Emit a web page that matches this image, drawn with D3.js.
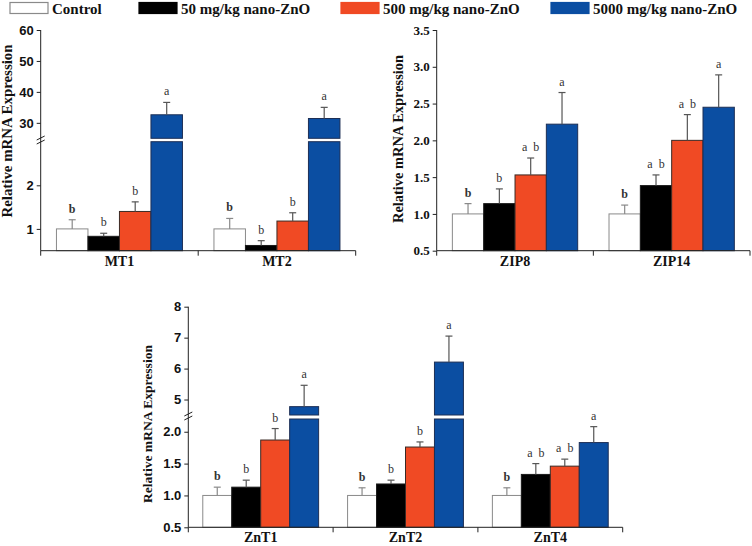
<!DOCTYPE html>
<html>
<head>
<meta charset="utf-8">
<script src="https://cdn.jsdelivr.net/npm/d3@7"></script>
<style>
  html, body { margin: 0; padding: 0; background: #fff; }
  svg { display: block; }
</style>
</head>
<body>
<svg id="chart" width="752" height="546"></svg>
<script>
// ---------- data ----------
const legendLabels = ["Control", "50 mg/kg nano-ZnO", "500 mg/kg nano-ZnO", "5000 mg/kg nano-ZnO"];
const seriesColors = ["#ffffff", "#000000", "#f04a24", "#0b4ea2"];
const seriesStrokes = ["#8a8a8a", "#1a1a1a", "#3a2a25", "#1d2f55"];

const mtGenes = ["MT1", "MT2"];
const mtMeans = [[1.0, 0.83, 1.40, 32.6], [1.0, 0.62, 1.18, 31.4]];
const mtErrs = [[0.21, 0.07, 0.22, 4.0], [0.24, 0.11, 0.19, 3.6]];
const mtLetters = [["b", "b", "b", "a"], ["b", "b", "b", "a"]];
const mtTicksLow = [1, 2];
const mtTicksHigh = [30, 40, 50, 60];

const zipGenes = ["ZIP8", "ZIP14"];
const zipMeans = [[1.0, 1.14, 1.53, 2.22], [1.0, 1.385, 2.0, 2.45]];
const zipErrs = [[0.14, 0.20, 0.23, 0.43], [0.12, 0.145, 0.35, 0.44]];
const zipLetters = [["b", "b", "a b", "a"], ["b", "a b", "a b", "a"]];
const zipTicks = [0.5, 1.0, 1.5, 2.0, 2.5, 3.0, 3.5];

const zntGenes = ["ZnT1", "ZnT2", "ZnT4"];
const zntMeans = [[1.0, 1.13, 1.87, 4.77], [1.0, 1.18, 1.76, 6.21], [1.0, 1.33, 1.46, 1.83]];
const zntErrs = [[0.13, 0.11, 0.18, 0.69], [0.12, 0.06, 0.08, 0.84], [0.12, 0.17, 0.11, 0.25]];
const zntLetters = [["b", "b", "b", "a"], ["b", "b", "b", "a"], ["b", "a b", "a b", "a"]];
const zntTicksLow = [0.5, 1.0, 1.5, 2.0];
const zntTicksHigh = [5, 6, 7, 8];

const yTitle = "Relative mRNA Expression";

// ---------- drawing ----------
const svg = d3.select("#chart");
const SERIF = "'Liberation Serif', 'Times New Roman', serif";
const SANS = "'Liberation Sans', Arial, sans-serif";

// legend
const legendX = [10, 139, 341, 551];
legendLabels.forEach((lab, i) => {
  svg.append("rect")
    .attr("x", legendX[i]).attr("y", 2.5).attr("width", 38).attr("height", 11)
    .attr("fill", seriesColors[i]).attr("stroke", i === 0 ? "#8a8a8a" : seriesColors[i]).attr("stroke-width", 1.2);
  svg.append("text")
    .attr("x", legendX[i] + 42).attr("y", 13.5)
    .attr("font-family", SERIF).attr("font-weight", "bold").attr("font-size", 15)
    .attr("fill", "#111")
    .text(lab);
});

function drawPanel(cfg) {
  const g = svg.append("g");
  const segs = cfg.segments.map(s => ({
    scale: d3.scaleLinear().domain(s.domain).range(s.range),
    ticks: s.ticks, fmt: s.fmt, domain: s.domain, range: s.range
  }));
  const yOf = v => {
    if (segs.length === 1 || v <= segs[0].domain[1]) return segs[0].scale(v);
    return segs[1].scale(v);
  };
  const yBase = segs[0].range[0];
  const yTop = segs[segs.length - 1].range[1];

  const x = d3.scaleBand().domain(cfg.genes).range(cfg.xRange).paddingInner(0.2).paddingOuter(0.1);
  const xs = d3.scaleBand().domain(d3.range(4)).range([0, x.bandwidth()]);

  // bars
  cfg.genes.forEach((gene, i) => {
    cfg.means[i].forEach((v, j) => {
      const bx = x(gene) + xs(j);
      const bw = xs.bandwidth();
      const style = sel => sel.attr("fill", seriesColors[j]).attr("stroke", seriesStrokes[j]).attr("stroke-width", 1);
      if (segs.length > 1 && v > segs[0].domain[1]) {
        const lowTop = segs[0].scale(segs[0].domain[1]);
        const upBot = segs[1].scale(segs[1].domain[0]);
        g.append("rect").attr("x", bx).attr("y", lowTop).attr("width", bw).attr("height", yBase - lowTop).call(style);
        g.append("rect").attr("x", bx).attr("y", yOf(v)).attr("width", bw).attr("height", upBot - yOf(v)).call(style);
      } else {
        g.append("rect").attr("x", bx).attr("y", yOf(v)).attr("width", bw).attr("height", yBase - yOf(v)).call(style);
      }
      // error bar
      const cx = bx + bw / 2;
      const ye = yOf(v + cfg.errs[i][j]);
      const ec = j === 0 ? "#8a8a8a" : "#555";
      g.append("line").attr("x1", cx).attr("x2", cx).attr("y1", yOf(v)).attr("y2", ye).attr("stroke", ec).attr("stroke-width", 1.2);
      g.append("line").attr("x1", cx - 3.5).attr("x2", cx + 3.5).attr("y1", ye).attr("y2", ye).attr("stroke", ec).attr("stroke-width", 1.2);
      // letter
      g.append("text")
        .attr("x", cx).attr("y", ye - 7)
        .attr("text-anchor", "middle")
        .attr("font-family", SERIF).attr("font-size", 12)
        .attr("font-weight", j === 0 ? "bold" : "normal")
        .attr("fill", "#333")
        .style("white-space", "pre")
        .text(cfg.letters[i][j].replace(" ", "  "));
    });
  });

  // y axis ticks and labels
  segs.forEach(s => {
    const ax = g.append("g").attr("transform", `translate(${cfg.xRange[0]},0)`)
      .call(d3.axisLeft(s.scale).tickValues(s.ticks).tickFormat(d3.format(s.fmt)).tickSize(4).tickPadding(3).tickSizeOuter(0));
    ax.select(".domain").remove();
    ax.selectAll("line").attr("stroke", "#222");
    ax.selectAll("text").attr("font-family", cfg.tickFont).attr("font-weight", "bold")
      .attr("font-size", cfg.tickSize).attr("fill", "#111");
  });
  g.append("line").attr("x1", cfg.xRange[0]).attr("x2", cfg.xRange[0]).attr("y1", yBase).attr("y2", yTop).attr("stroke", "#222").attr("stroke-width", 1);

  // break marks
  if (cfg.breakY) {
    [-2, 2].forEach(off => {
      g.append("line")
        .attr("x1", cfg.xRange[0] - 4).attr("y1", cfg.breakY + off + 2)
        .attr("x2", cfg.xRange[0] + 4).attr("y2", cfg.breakY + off - 2)
        .attr("stroke", "#222").attr("stroke-width", 1);
    });
  }

  // x axis
  g.append("line").attr("x1", cfg.xRange[0]).attr("x2", cfg.xRange[1]).attr("y1", yBase).attr("y2", yBase).attr("stroke", "#222").attr("stroke-width", 1);
  const step = x.step();
  d3.range(cfg.genes.length + 1).forEach(k => {
    const tx = cfg.xRange[0] + k * step;
    g.append("line").attr("x1", tx).attr("x2", tx).attr("y1", yBase).attr("y2", yBase + 5).attr("stroke", "#222");
  });
  cfg.genes.forEach(gene => {
    g.append("text")
      .attr("x", x(gene) + x.bandwidth() / 2).attr("y", yBase + 15)
      .attr("text-anchor", "middle")
      .attr("font-family", SERIF).attr("font-weight", "bold").attr("font-size", 14)
      .attr("fill", "#111")
      .text(gene);
  });

  // y title
  g.append("text")
    .attr("transform", `translate(${cfg.titleX},${cfg.titleY}) rotate(-90)`)
    .attr("text-anchor", "middle")
    .attr("font-family", SERIF).attr("font-weight", "bold").attr("font-size", cfg.titleSize)
    .attr("textLength", cfg.titleLen).attr("lengthAdjust", "spacingAndGlyphs")
    .attr("fill", "#111")
    .text(yTitle);
}

drawPanel({
  genes: mtGenes, means: mtMeans, errs: mtErrs, letters: mtLetters,
  xRange: [40.7, 355.7],
  segments: [
    { domain: [0.5, 3.0], range: [250.7, 141.7], ticks: mtTicksLow, fmt: "d" },
    { domain: [25, 60], range: [138.3, 30], ticks: mtTicksHigh, fmt: "d" }
  ],
  breakY: 140, tickFont: SANS, tickSize: 13,
  titleX: 12, titleY: 131, titleSize: 14, titleLen: 173
});

drawPanel({
  genes: zipGenes, means: zipMeans, errs: zipErrs, letters: zipLetters,
  xRange: [436.7, 750],
  segments: [
    { domain: [0.5, 3.5], range: [250.7, 30], ticks: zipTicks, fmt: ".1f" }
  ],
  tickFont: SERIF, tickSize: 13,
  titleX: 403, titleY: 139, titleSize: 14, titleLen: 168
});

drawPanel({
  genes: zntGenes, means: zntMeans, errs: zntErrs, letters: zntLetters,
  xRange: [188.3, 622.7],
  segments: [
    { domain: [0.5, 2.2], range: [527.3, 419], ticks: zntTicksLow, fmt: ".1f" },
    { domain: [4.5, 8], range: [415, 306.7], ticks: zntTicksHigh, fmt: "d" }
  ],
  breakY: 416, tickFont: SANS, tickSize: 13,
  titleX: 152, titleY: 424, titleSize: 13.5, titleLen: 158
});
</script>
</body>
</html>
